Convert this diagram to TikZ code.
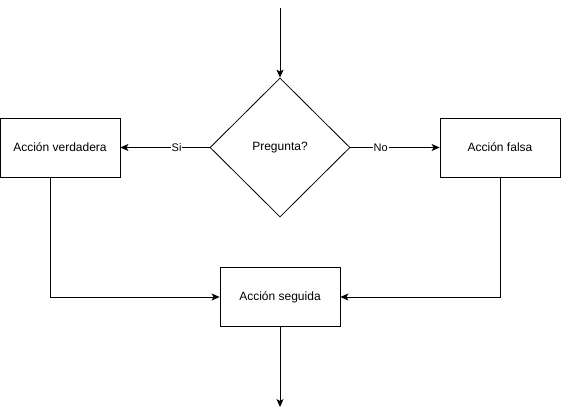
\documentclass[tikz,border=0pt]{standalone}
\usepackage{fontspec}
\setmainfont{Liberation Sans}
\usetikzlibrary{arrows.meta,positioning,shapes.geometric}

\begin{document}
\begin{tikzpicture}[x=1pt, y=-1pt,
  action/.style={draw, line width=0.8pt, minimum width=120pt, minimum height=59pt, inner sep=0pt, align=center, font=\fontsize{12}{14}\selectfont},
  question/.style={draw, diamond, line width=0.8pt, minimum width=140pt, minimum height=139pt, inner sep=0pt, font=\fontsize{12}{14}\selectfont},
  arr/.style={-{Stealth[length=8pt,width=7pt,inset=2pt]}, line width=0.8pt},
  answer/.style={fill=white, inner sep=1pt, font=\fontsize{11}{13}\selectfont},
]
\useasboundingbox (0,0) rectangle (561,416);
\coordinate (start) at (280,8);
\node[question] (ask) at (280,147.5) {Pregunta?};
\node[action] (yes) at (60,147.5) {Acción verdadera};
\node[action] (no) at (500,147.5) {Acción falsa};
\node[action] (next) at (280,297) {Acción seguida};
\coordinate (stop) at (280,407);
% connectors
\draw[arr] (start) -- (ask.north);
\draw[arr] (ask.west) -- node[answer, pos=0.37]{Si} (yes.east);
\draw[arr] (ask.east) -- node[answer, pos=0.34]{No} (no.west);
\draw[arr] ([xshift=-10pt]yes.south) |- (next.west);
\draw[arr] (no.south) |- (next.east);
\draw[arr] (next.south) -- (stop);
\end{tikzpicture}
\end{document}
